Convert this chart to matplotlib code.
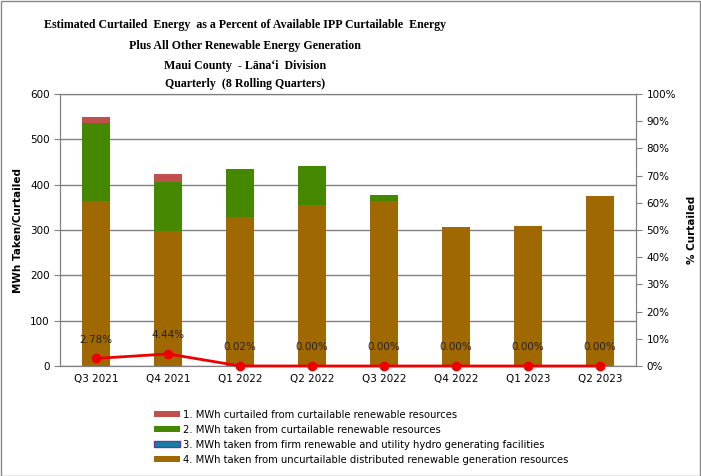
import matplotlib
matplotlib.use("Agg")
import matplotlib.pyplot as plt
import numpy as np
from matplotlib.patches import Patch, Rectangle

quarters = ["Q3 2021", "Q4 2021", "Q1 2022", "Q2 2022", "Q3 2022", "Q4 2022", "Q1 2023", "Q2 2023"]
curtailed = [15, 19, 0.1, 0, 0, 0, 0, 0]
taken_curtailable = [170, 108, 105, 87, 14, 0, 0, 0]
taken_firm = [0, 0, 0, 0, 0, 0, 0, 0]
taken_uncurtailable = [365, 297, 329, 355, 364, 307, 309, 375]
pct_curtailed = [2.78, 4.44, 0.02, 0.00, 0.00, 0.00, 0.00, 0.00]
pct_labels = ["2.78%", "4.44%", "0.02%", "0.00%", "0.00%", "0.00%", "0.00%", "0.00%"]
title_lines = ["Estimated Curtailed  Energy  as a Percent of Available IPP Curtailable  Energy",
               "Plus All Other Renewable Energy Generation",
               "Maui County  - Lāna‘i  Division",
               "Quarterly  (8 Rolling Quarters)"]

c_curt = "#C0504D"
c_take = "#458800"
c_firm = "#0E84A5"
c_unc = "#A06800"

fig = plt.figure(figsize=(7.01, 4.76), dpi=100)
fig.patch.set_facecolor("white")
fig.add_artist(Rectangle((0.001, 0.001), 0.998, 0.997, transform=fig.transFigure,
                         fill=False, edgecolor="#888888", linewidth=1))

ax = fig.add_axes([60/701, 1-366/476, 576/701, 272/476])
x = np.arange(len(quarters))
w = 0.4
b1 = np.array(taken_uncurtailable)
b2 = b1 + np.array(taken_firm)
b3 = b2 + np.array(taken_curtailable)
ax.bar(x, taken_uncurtailable, w, color=c_unc, zorder=2)
ax.bar(x, taken_firm, w, bottom=b1, color=c_firm, zorder=2)
ax.bar(x, taken_curtailable, w, bottom=b2, color=c_take, zorder=2)
ax.bar(x, curtailed, w, bottom=b3, color=c_curt, zorder=2)

ax.set_xlim(-0.5, len(quarters)-0.5)
ax.set_ylim(0, 600)
ax.set_yticks(range(0, 601, 100))
ax.yaxis.grid(True, color="#808080", linewidth=1)
ax.set_axisbelow(True)
for s in ax.spines.values():
    s.set_color("#808080")
ax.set_xticks(x)
ax.set_xticklabels(quarters, fontsize=7.5)
ax.tick_params(axis="x", length=0, pad=6)
ax.tick_params(axis="y", labelsize=7.5, color="#808080", length=4)
ax.set_ylabel("MWh Taken/Curtailed", fontsize=7.5, fontweight="bold", labelpad=5)

ax2 = ax.twinx()
ax2.set_ylim(0, 1.0)
ax2.set_yticks(np.arange(0, 1.01, 0.1))
ax2.set_yticklabels([f"{int(round(v*100))}%" for v in np.arange(0, 1.01, 0.1)])
ax2.tick_params(axis="y", labelsize=7.5, color="#808080", length=4)
for s in ax2.spines.values():
    s.set_color("#808080")
ax2.set_ylabel("% Curtailed", fontsize=7.5, fontweight="bold", labelpad=8)
pv = np.array(pct_curtailed) / 100
ax2.plot(x, pv, color="#EE0000", linewidth=2, marker="o", markersize=6, zorder=5, clip_on=False)
for xi, yi, lab in zip(x, pv, pct_labels):
    ax2.annotate(lab, (xi, yi), xytext=(0, 10), textcoords="offset points",
                 ha="center", va="bottom", fontsize=7.5, color="#222222")

title_y = [25, 46, 66, 84]
for ty, line in zip(title_y, title_lines):
    fig.text(245/701, 1-ty/476, line, ha="center", va="center", fontsize=8.6, fontweight="bold",
             family=["Liberation Serif", "DejaVu Serif"])

handles = [Patch(facecolor=c_curt), Patch(facecolor=c_take), Patch(facecolor=c_firm, edgecolor="#7030A0"),
           Patch(facecolor=c_unc)]
labels = ["1. MWh curtailed from curtailable renewable resources",
          "2. MWh taken from curtailable renewable resources",
          "3. MWh taken from firm renewable and utility hydro generating facilities",
          "4. MWh taken from uncurtailable distributed renewable generation resources"]
fig.legend(handles, labels, loc="upper left", bbox_to_anchor=(145/701, 1-401/476), frameon=False,
           fontsize=7.2, handlelength=2.6, handleheight=0.55, handletextpad=0.3, labelspacing=0.5)

fig.savefig("out.png", dpi=100)
